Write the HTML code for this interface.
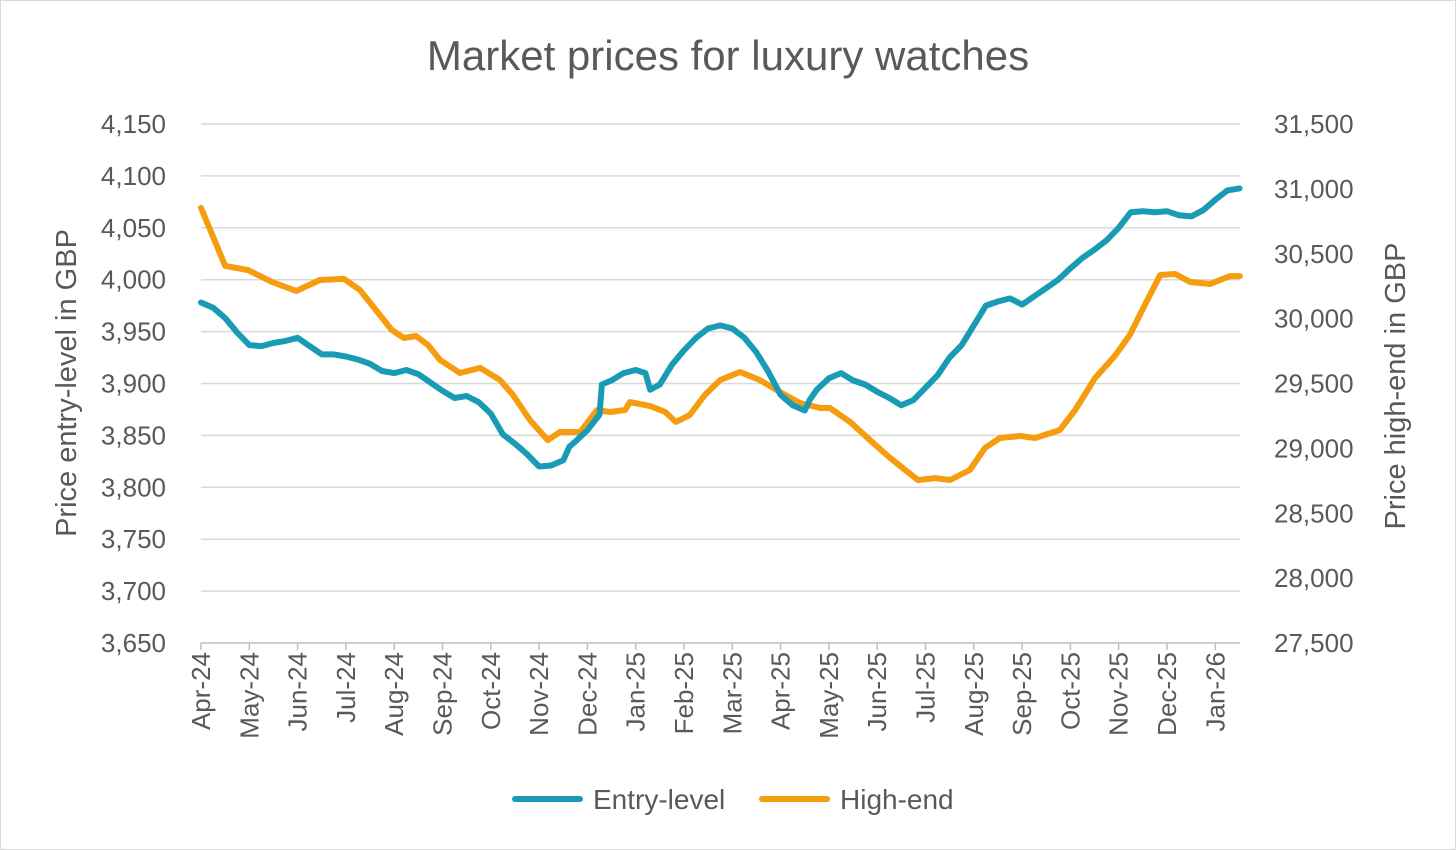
<!DOCTYPE html>
<html><head><meta charset="utf-8"><style>
body{margin:0;background:#fff;}
svg{display:block;font-family:"Liberation Sans Narrow","Liberation Sans",sans-serif;fill:#595959;}
</style></head><body>
<svg id="chart" width="1456" height="850" viewBox="0 0 1456 850">
<rect x="0.5" y="0.5" width="1455" height="849" fill="#fff" stroke="#d9d9d9"/>
<text x="728" y="70" text-anchor="middle" font-size="42">Market prices for luxury watches</text>
<g id="grid"></g><g id="ylabels"></g><g id="xlabels"></g><g id="lines"></g>
<text transform="translate(76,383) rotate(-90)" text-anchor="middle" font-size="29">Price entry-level in GBP</text>
<text transform="translate(1405,386) rotate(-90)" text-anchor="middle" font-size="29">Price high-end in GBP</text>
<g>
<line x1="515" y1="799" x2="580" y2="799" stroke="#1a9bb5" stroke-width="6" stroke-linecap="round"/>
<text x="593" y="809" font-size="28">Entry-level</text>
<line x1="762" y1="799" x2="827" y2="799" stroke="#f59c0f" stroke-width="6" stroke-linecap="round"/>
<text x="840" y="809" font-size="28">High-end</text>
</g>
</svg>
<script>
const monthLabels=["Apr-24","May-24","Jun-24","Jul-24","Aug-24","Sep-24","Oct-24","Nov-24","Dec-24","Jan-25","Feb-25","Mar-25","Apr-25","May-25","Jun-25","Jul-25","Aug-25","Sep-25","Oct-25","Nov-25","Dec-25","Jan-26"];
const leftTicks=[3650,3700,3750,3800,3850,3900,3950,4000,4050,4100,4150];
const rightTicks=[27500,28000,28500,29000,29500,30000,30500,31000,31500];
const entryMonths=[0,0.25,0.5,0.75,1,1.25,1.5,1.75,2,2.25,2.5,2.75,3,3.25,3.5,3.75,4,4.25,4.5,4.75,5,5.25,5.5,5.75,6,6.25,6.5,6.75,7,7.25,7.5,7.625,7.75,8,8.25,8.3,8.5,8.75,9,9.2,9.3,9.5,9.75,10,10.25,10.5,10.75,11,11.25,11.5,11.75,12,12.25,12.5,12.6,12.75,13,13.25,13.5,13.75,14,14.25,14.5,14.75,15,15.25,15.5,15.75,16,16.25,16.5,16.75,17,17.25,17.5,17.75,18,18.25,18.5,18.75,19,19.25,19.5,19.75,20,20.25,20.5,20.75,21,21.25,21.5];
const entryValues=[3978,3973,3963,3949,3937,3936,3939,3941,3944,3936,3928,3928,3926,3923,3919,3912,3910,3913,3909,3901,3893,3886,3888,3882,3871,3851,3842,3832,3820,3821,3826,3839,3844,3855,3870,3899,3903,3910,3913,3910,3894,3899,3918,3932,3944,3953,3956,3953,3944,3930,3911,3889,3879,3874,3884,3894,3905,3910,3903,3899,3892,3886,3879,3884,3896,3908,3925,3937,3956,3975,3979,3982,3976,3984,3992,4000,4011,4021,4029,4038,4050,4065,4066,4065,4066,4062,4061,4067,4077,4086,4088];
const highMonths=[0,0.5,0.97,1.47,1.97,2.46,2.96,3.29,3.95,4.2,4.45,4.7,4.95,5.36,5.78,6.19,6.46,6.81,7.18,7.43,7.85,8.2,8.47,8.78,8.88,9.3,9.61,9.83,10.12,10.43,10.75,11.16,11.57,11.99,12.4,12.82,13.02,13.44,13.85,14.27,14.58,14.84,15.2,15.51,15.92,16.23,16.54,16.96,17.27,17.78,18.1,18.51,18.92,19.23,19.54,19.86,20.17,20.48,20.89,21.3,21.51];
const highValues=[30853,30406,30375,30282,30213,30298,30306,30221,29912,29851,29866,29797,29681,29581,29620,29527,29411,29219,29064,29126,29126,29296,29280,29296,29357,29326,29280,29203,29257,29411,29527,29589,29527,29434,29350,29311,29311,29203,29064,28926,28833,28756,28771,28756,28833,29003,29080,29095,29080,29141,29296,29542,29712,29874,30105,30336,30344,30282,30267,30328,30328];

const NS="http://www.w3.org/2000/svg";
const X0=201,XS=48.3,YT=124,YB=643,PR=1240;
const x=m=>X0+m*XS;
const yL=v=>YB-(v-3650)/500*(YB-YT);
const yR=v=>YB-(v-27500)/4000*(YB-YT);
function mk(tag,attrs,parent,txt){const e=document.createElementNS(NS,tag);for(const k in attrs)e.setAttribute(k,attrs[k]);if(txt!==undefined)e.textContent=txt;parent.appendChild(e);return e;}
const grid=document.getElementById('grid'),yl=document.getElementById('ylabels'),xl=document.getElementById('xlabels'),ln=document.getElementById('lines');
leftTicks.forEach(v=>{
  const g=mk('line',{x1:X0,x2:PR,y1:yL(v),y2:yL(v),stroke:v===3650?'#bfbfbf':'#d9d9d9','stroke-width':1.5},grid);
  
  
  const t=mk('text',{x:166,y:yL(v)+9,'text-anchor':'end','font-size':26},yl,v.toLocaleString('en-US'));
  
  
});
rightTicks.forEach(v=>{
  const t=mk('text',{x:1274,y:yR(v)+9,'font-size':26},yl,v.toLocaleString('en-US'));
  
  
});
monthLabels.forEach((l,i)=>{
  const tk=mk('line',{x1:x(i),x2:x(i),y1:YB,y2:YB+7,stroke:'#bfbfbf','stroke-width':1.5},grid);
  
  
  const t=mk('text',{transform:`translate(${x(i)+9},652) rotate(-90)`,'text-anchor':'end','font-size':26},xl,l);
  
  
});
function series(ms,vs,yf,col,name){
  const d=ms.map((m,i)=>(i?'L':'M')+x(m).toFixed(1)+','+yf(vs[i]).toFixed(1)).join('');
  const p=mk('path',{d:d,fill:'none',stroke:col,'stroke-width':6,'stroke-linejoin':'round','stroke-linecap':'round'},ln);
  
  
}
series(highMonths,highValues,yR,'#f59c0f','high-end-line');
series(entryMonths,entryValues,yL,'#1a9bb5','entry-level-line');
</script>
</body></html>
